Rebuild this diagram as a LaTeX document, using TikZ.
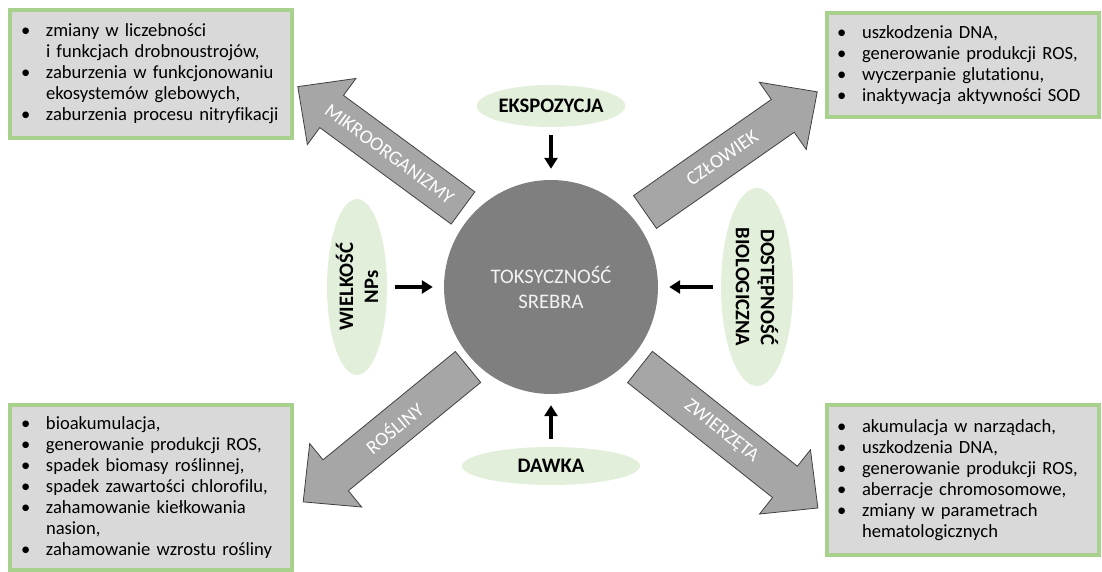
\documentclass[tikz,border=0pt]{standalone}
\usepackage{fontspec}
\setmainfont{Carlito}[Ligatures=CommonOff]
\usetikzlibrary{shapes.geometric,arrows.meta}
\definecolor{RamkaZielona}{HTML}{A9D18E}
\definecolor{PoleSzare}{HTML}{D9D9D9}
\definecolor{ElipsaZielona}{HTML}{E2EFDA}
\definecolor{KoloSzare}{HTML}{7F7F7F}
\definecolor{BlokSzary}{HTML}{A6A6A6}
\newcommand\pkt{\makebox[25pt][l]{•}}
\newcommand\dalej{\hspace*{25pt}}

\begin{document}
\begin{tikzpicture}[x=1pt,y=1pt,
  ramka/.style={draw=RamkaZielona,fill=PoleSzare,line width=4pt,anchor=north west,
    inner xsep=11pt,align=left,font=\fontsize{18.6}{21}\selectfont},
  elipsa/.style={ellipse,fill=ElipsaZielona,inner sep=0pt,align=center,
    font=\fontsize{20.6}{25}\selectfont\bfseries},
  strz/.style={line width=3.5pt,-{Triangle[length=11pt,width=13pt]},
    shorten <=8pt,shorten >=11pt},
  blok/.style={draw=black!75,fill=BlokSzary,line width=0.8pt},
  bloktekst/.style={text=white,font=\fontsize{19.5}{24}\selectfont}]
  \useasboundingbox (0,0) rectangle (1102,572);

  \node[circle,fill=KoloSzare,minimum size=214pt,text=white!95!black,align=center,
    font=\fontsize{20.7}{25}\selectfont] (toks) at (551,285) {TOKSYCZNOŚĆ\\SREBRA};

  % czynniki
  \node[elipsa,minimum width=140pt,minimum height=42pt] (ekspozycja) at (551,466) {EKSPOZYCJA};
  \node[elipsa,minimum width=178pt,minimum height=38pt] (dawka) at (551,106) {DAWKA};
  \node[elipsa,rotate=90,minimum width=176pt,minimum height=52pt] (wielkosc) at (357,285) {WIELKOŚĆ\\NPs};
  \node[elipsa,rotate=-90,minimum width=198pt,minimum height=72pt] (dostepnosc) at (757,285) {DOSTĘPNOŚĆ\\BIOLOGICZNA};
  \foreach \skad in {ekspozycja,dawka,wielkosc,dostepnosc}
    \draw[strz] (\skad) -- (toks);

  % grupy organizmow
  \foreach \nazwa/\px/\py/\kat/\dl/\obr/\napis in {mikro/463/364/143.7/205/-36.3/MIKROORGANIZMY,
      czlowiek/645/360/34.9/210/34.9/CZŁOWIEK,rosliny/468/205/219.3/213/39.3/ROŚLINY,
      zwierzeta/640/205/-38.4/227/-38.4/ZWIERZĘTA} {
    \begin{scope}[shift={(\px,\py)},rotate=\kat]
      \draw[blok] (0,-20) -- ({\dl-42},-20) -- ({\dl-42},-41) -- (\dl,0)
        -- ({\dl-42},41) -- ({\dl-42},20) -- (0,20) -- cycle;
      \node[bloktekst,rotate=\obr] (\nazwa) at ({0.56*(\dl-42)},0) {\napis};
    \end{scope}
  }

  % skutki
  \node[ramka,minimum height=128pt,text width=260pt] (mikrobox) at (8,564)
    {\pkt zmiany w liczebności\\\dalej i funkcjach drobnoustrojów,\\\pkt zaburzenia w funkcjonowaniu\\\dalej ekosystemów glebowych,\\\pkt zaburzenia procesu nitryfikacji};
  \node[ramka,minimum height=104pt,text width=252pt,inner xsep=10pt] (czlowiekbox) at (825,561)
    {\pkt uszkodzenia DNA,\\\pkt generowanie produkcji ROS,\\\pkt wyczerpanie glutationu,\\\pkt inaktywacja aktywności SOD};
  \node[ramka,minimum height=165pt,text width=260pt] (roslinybox) at (8,169)
    {\pkt bioakumulacja,\\\pkt generowanie produkcji ROS,\\\pkt spadek biomasy roślinnej,\\\pkt spadek zawartości chlorofilu,\\\pkt zahamowanie kiełkowania\\\dalej nasion,\\\pkt zahamowanie wzrostu rośliny};
  \node[ramka,minimum height=150pt,text width=252pt,inner xsep=10pt] (zwierzetabox) at (825,169)
    {\pkt akumulacja w narządach,\\\pkt uszkodzenia DNA,\\\pkt generowanie produkcji ROS,\\\pkt aberracje chromosomowe,\\\pkt zmiany w parametrach\\\dalej hematologicznych};
\end{tikzpicture}
\end{document}
